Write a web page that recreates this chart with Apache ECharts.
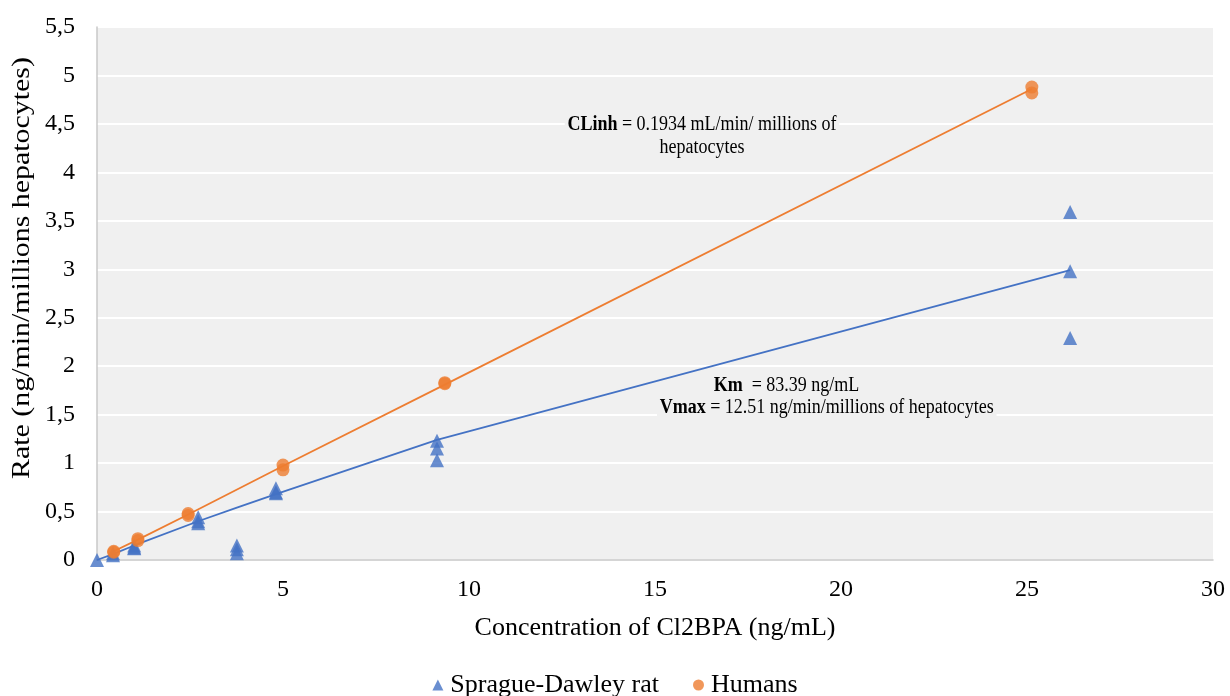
<!DOCTYPE html>
<html>
<head>
<meta charset="utf-8">
<script src="https://cdn.jsdelivr.net/npm/echarts@6/dist/echarts.min.js"></script>
<style>
  html, body { margin: 0; padding: 0; background: #fff; }
  #chart { width: 1230px; height: 696px; }
</style>
</head>
<body>
<div id="chart"></div>
<script>
// observed rates, Sprague-Dawley rat
const ratConc = [0, 0.43, 0.43, 1.0, 1.0, 1.0, 2.72, 2.72, 2.72, 3.76, 3.76, 3.76, 4.81, 4.81, 4.81, 9.14, 9.14, 9.14, 26.16, 26.16, 26.16];
const ratRate = [0, 0.05, 0.07, 0.12, 0.15, 0.13, 0.44, 0.38, 0.4, 0.15, 0.11, 0.07, 0.74, 0.69, 0.7, 1.23, 1.15, 1.03, 3.59, 2.98, 2.29];

// observed rates, humans
const humanConc = [0.45, 0.45, 1.1, 1.1, 2.45, 2.45, 5.0, 5.0, 9.35, 9.35, 25.13, 25.13];
const humanRate = [0.08, 0.09, 0.2, 0.22, 0.46, 0.48, 0.98, 0.93, 1.83, 1.82, 4.88, 4.82];

// fitted curves
const ratFitConc = [0, 0.43, 1.0, 2.72, 3.76, 4.81, 9.14, 26.16];
const ratFitRate = [0, 0.06, 0.15, 0.4, 0.54, 0.68, 1.24, 2.99];
const humanFitConc = [0.45, 1.1, 2.45, 5.0, 9.35, 25.13];
const humanFitRate = [0.09, 0.21, 0.47, 0.97, 1.81, 4.86];

const xTicks = [0, 5, 10, 15, 20, 25, 30];
const yTicks = ["0", "0,5", "1", "1,5", "2", "2,5", "3", "3,5", "4", "4,5", "5", "5,5"];

const BLUE = "#4472C4";
const ORANGE = "#ED7D31";
const PLOT_BG = "#f0f0f0";
const FONT = "Liberation Serif";

const zip = (xs, ys) => xs.map((x, i) => [x, ys[i]]);

// annotation text box, gray fill hides the gridlines behind it
const note = (x, y, text, align) => ({
  type: "text", x, y, scaleX: 0.9, z: 10,
  style: {
    text, fontFamily: FONT, fontSize: 20, fill: "#000",
    align, verticalAlign: "middle",
    backgroundColor: PLOT_BG, padding: [1, 3],
    rich: { b: { fontFamily: FONT, fontSize: 20, fontWeight: "bold" } }
  }
});

const chart = echarts.init(document.getElementById("chart"));
chart.setOption({
  animation: false,
  backgroundColor: "#fff",
  textStyle: { fontFamily: FONT, color: "#000" },
  grid: {
    left: 97, right: 17, top: 27, bottom: 136,
    show: true, backgroundColor: PLOT_BG, borderWidth: 0
  },
  xAxis: {
    type: "value",
    min: xTicks[0], max: xTicks[xTicks.length - 1], interval: 5,
    name: "Concentration of Cl2BPA (ng/mL)",
    nameLocation: "middle", nameGap: 55,
    nameTextStyle: { fontFamily: FONT, fontSize: 26, color: "#000" },
    axisLine: { show: true, lineStyle: { color: "#c8c8c8", width: 1.5 } },
    axisTick: { show: false },
    splitLine: { show: false },
    axisLabel: { fontFamily: FONT, fontSize: 24, color: "#000", margin: 18 }
  },
  yAxis: {
    type: "value",
    min: 0, max: 5.5, interval: 0.5,
    axisLine: { show: true, lineStyle: { color: "#c8c8c8", width: 1.5 } },
    axisTick: { show: false },
    splitLine: { lineStyle: { color: "#ffffff", width: 2 } },
    axisLabel: {
      fontFamily: FONT, fontSize: 24, color: "#000", margin: 22,
      formatter: (v) => yTicks[Math.round(v * 2)]
    }
  },
  legend: {
    bottom: -2, left: "center", padding: 0,
    data: [
      { name: "Sprague-Dawley rat", icon: "triangle" },
      { name: "Humans", icon: "circle" }
    ],
    itemWidth: 11, itemHeight: 11, itemGap: 34,
    textStyle: { fontFamily: FONT, fontSize: 26, color: "#000", padding: [0, 0, 0, 2] }
  },
  series: [
    {
      name: "rat fit", type: "line", data: zip(ratFitConc, ratFitRate),
      showSymbol: false, lineStyle: { color: BLUE, width: 1.8 }, z: 2
    },
    {
      name: "human fit", type: "line", data: zip(humanFitConc, humanFitRate),
      showSymbol: false, lineStyle: { color: ORANGE, width: 1.8 }, z: 2
    },
    {
      name: "Sprague-Dawley rat", type: "scatter", data: zip(ratConc, ratRate),
      symbol: "triangle", symbolSize: 14, itemStyle: { color: BLUE }, z: 3
    },
    {
      name: "Humans", type: "scatter", data: zip(humanConc, humanRate),
      symbol: "circle", symbolSize: 13, itemStyle: { color: ORANGE }, z: 3
    }
  ],
  graphic: [
    {
      type: "text", x: 22, y: 268, rotation: Math.PI / 2, scaleX: 1.15,
      style: {
        text: "Rate (ng/min/millions hepatocytes)",
        fontFamily: FONT, fontSize: 26, fill: "#000",
        align: "center", verticalAlign: "middle"
      }
    },
    note(702, 125, "{b|CLinh} = 0.1934 mL/min/ millions of", "center"),
    note(702, 148, "hepatocytes", "center"),
    note(711, 386, "{b|Km}  = 83.39 ng/mL", "left"),
    note(657, 408, "{b|Vmax} = 12.51 ng/min/millions of hepatocytes", "left")
  ]
});
</script>
</body>
</html>
